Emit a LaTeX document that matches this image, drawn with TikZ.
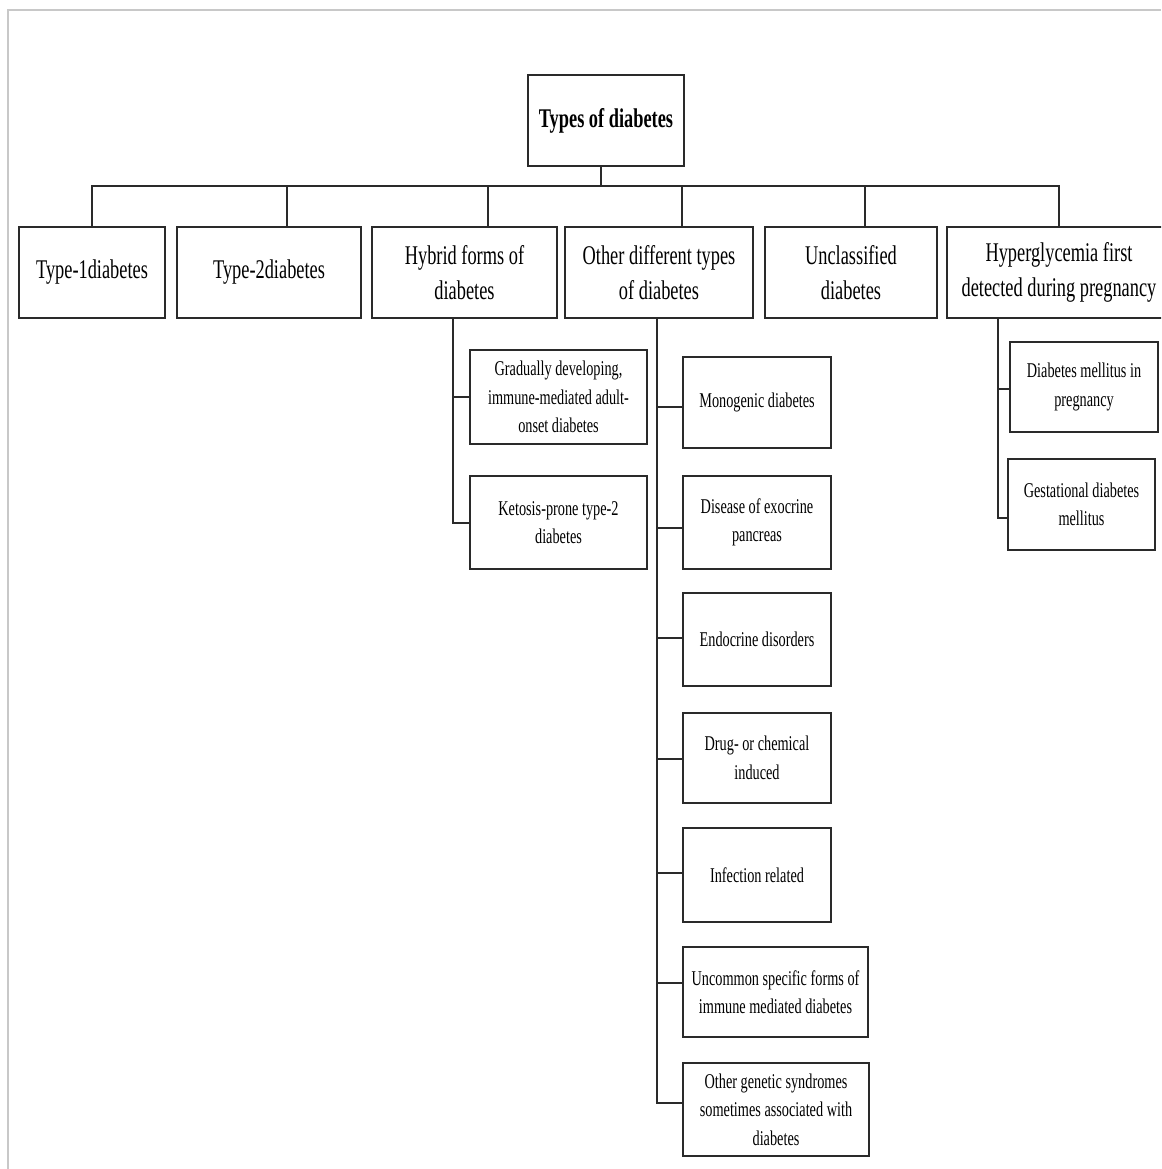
\documentclass[tikz,border=0pt]{standalone}
\usepackage{fontspec}
\setmainfont[FakeStretch=0.68]{Liberation Serif}
\definecolor{ink}{HTML}{2A2A2A}
\definecolor{frame}{HTML}{C8C8C8}
\begin{document}
\begin{tikzpicture}[x=1pt,y=-1pt,
  box/.style={draw=ink,line width=2pt,rectangle,inner sep=0pt,align=center,text=black},
  bigbox/.style={box,font=\fontsize{27}{35}\selectfont},
  smallbox/.style={box,font=\fontsize{21}{28.5}\selectfont},
  conn/.style={draw=ink,line width=2pt}]
\useasboundingbox (0,0) rectangle (1161,1169);
\clip (0,0) rectangle (1161,1169);
\fill[white] (0,0) rectangle (1161,1169);
\draw[frame,line width=1.5pt] (8,1169) -- (8,10) -- (1161,10);

% root
\node[bigbox,minimum width=156pt,minimum height=91pt,font=\fontsize{27}{35}\selectfont\bfseries] (root) at (606,120.5) {Types of diabetes};

% level 1
\node[bigbox,minimum width=146pt,minimum height=91pt] (t1) at (92,272.5) {Type-1diabetes};
\node[bigbox,minimum width=184pt,minimum height=91pt] (t2) at (269,272.5) {Type-2diabetes};
\node[bigbox,minimum width=185pt,minimum height=91pt] (hyb) at (464.5,272.5) {Hybrid forms of\\diabetes};
\node[bigbox,minimum width=188pt,minimum height=91pt] (oth) at (659,272.5) {Other different types\\of diabetes};
\node[bigbox,minimum width=172pt,minimum height=91pt] (unc) at (851,272.5) {Unclassified\\diabetes};
\node[bigbox,minimum width=224pt,minimum height=91pt] (hyp) at (1059,272.5) {Hyperglycemia first\\detected during pregnancy};

% hybrid children
\node[smallbox,minimum width=177pt,minimum height=94pt] (grad) at (558.5,397) {Gradually developing,\\immune-mediated adult-\\onset diabetes};
\node[smallbox,minimum width=177pt,minimum height=93pt] (keto) at (558.5,522.5) {Ketosis-prone type-2\\diabetes};

% other children
\node[smallbox,minimum width=148pt,minimum height=91pt] (mono) at (757,402.5) {Monogenic diabetes};
\node[smallbox,minimum width=148pt,minimum height=93pt] (exo) at (757,522.5) {Disease of exocrine\\pancreas};
\node[smallbox,minimum width=148pt,minimum height=93pt] (endo) at (757,639.5) {Endocrine disorders};
\node[smallbox,minimum width=148pt,minimum height=90pt] (drug) at (757,758) {Drug- or chemical\\induced};
\node[smallbox,minimum width=148pt,minimum height=94pt] (inf) at (757,875) {Infection related};
\node[smallbox,minimum width=185pt,minimum height=90pt] (unco) at (775.5,992) {Uncommon specific forms of\\immune mediated diabetes};
\node[smallbox,minimum width=186pt,minimum height=93pt] (gen) at (776,1109.5) {Other genetic syndromes\\sometimes associated with\\diabetes};

% hyperglycemia children
\node[smallbox,minimum width=148pt,minimum height=90pt] (dmp) at (1084,387) {Diabetes mellitus in\\pregnancy};
\node[smallbox,minimum width=147pt,minimum height=91pt] (gdm) at (1081.5,504.5) {Gestational diabetes\\mellitus};

% connectors: root to level 1
\coordinate (bus) at (601,186);
\draw[conn] ([xshift=-5pt]root.south) -- (bus);
\draw[conn] (t1.north) |- (bus) -| (hyp.north);
\draw[conn] ([xshift=18pt]t2.north) -- ([xshift=18pt]t2.north |- bus);
\draw[conn] ([xshift=23.5pt]hyb.north) -- ([xshift=23.5pt]hyb.north |- bus);
\draw[conn] ([xshift=23pt]oth.north) -- ([xshift=23pt]oth.north |- bus);
\draw[conn] ([xshift=14pt]unc.north) -- ([xshift=14pt]unc.north |- bus);

% hybrid branch
\draw[conn] ([xshift=-11.5pt]hyb.south) |- (grad.west);
\draw[conn] ([xshift=-11.5pt]hyb.south) |- (keto.west);

% other branch
\foreach \n/\dy in {mono/-4.5,exo/-5.5,endo/1.5,drug/-1,inf/2,unco/9,gen/6.5}
  \draw[conn] ([xshift=-2pt]oth.south) |- ([yshift=\dy pt]\n.west);

% hyperglycemia branch
\draw[conn] ([xshift=-61pt]hyp.south) |- ([yshift=-2pt]dmp.west);
\draw[conn] ([xshift=-61pt]hyp.south) |- ([yshift=-13.5pt]gdm.west);
\end{tikzpicture}
\end{document}
